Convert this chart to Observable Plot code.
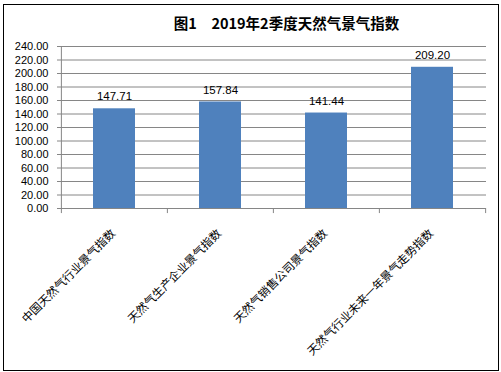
<!DOCTYPE html>
<html><head><meta charset="utf-8">
<script src="https://cdn.jsdelivr.net/npm/d3@7"></script>
<script src="https://cdn.jsdelivr.net/npm/@observablehq/plot@0.6"></script>
<style>
body{margin:0;background:#fff;}
#wrap{position:relative;width:501px;height:372px;overflow:hidden;}
#frame{position:absolute;left:3px;top:4px;width:494px;height:365px;border:1.5px solid #000;}
#title{position:absolute;left:72px;top:13px;width:429px;text-align:center;font:bold 14.5px "Noto Sans CJK SC",sans-serif;color:#000;line-height:20px;}
#chart{position:absolute;left:0;top:40px;}
</style></head>
<body><div id="wrap"><div id="frame"></div><div id="title">图1　2019年2季度天然气景气指数</div><div id="chart"></div></div>
<script>
const categories = ["中国天然气行业景气指数","天然气生产企业景气指数","天然气销售公司景气指数","天然气行业未来一年景气走势指数"];
const values = [147.71, 157.84, 141.44, 209.20];
const yTicks = [0,20,40,60,80,100,120,140,160,180,200,220,240];

const data = categories.map((c,i)=>({cat:c, v:values[i]}));
const W = 501, H = 332, mL = 61, mR = 15, mT = 6, mB = 164;
const step = (W - mL - mR) / categories.length;
const grid = "#868686";
const numFont = "Liberation Sans, Arial, sans-serif";

const plot = Plot.plot({
  width: W, height: H,
  marginLeft: mL, marginRight: mR, marginTop: mT, marginBottom: mB,
  style: {background: "transparent", color: "#000"},
  x: {domain: categories, paddingInner: 0.6, paddingOuter: 0.3},
  y: {domain: [0, 240], ticks: yTicks},
  marks: [
    Plot.gridY(yTicks, {stroke: grid, strokeOpacity: 1, strokeWidth: 1}),
    Plot.barY(data, {x: "cat", y: "v", fill: "#4F81BD"}),
    Plot.ruleY([0], {stroke: grid, strokeWidth: 1}),
    Plot.ruleX([0], {x: () => categories[0], dx: -step/2, y1: 0, y2: 240, stroke: grid}),
    Plot.ruleX(categories, {x: d => d, dx: -step/2, y1: 0, y2: -7.5, stroke: grid}),
    Plot.ruleX([categories[categories.length-1]], {x: d => d, dx: step/2, y1: 0, y2: -7.5, stroke: grid}),
    Plot.axisY({ticks: yTicks, tickFormat: d => d.toFixed(2), tickSize: 4, tickPadding: 9, stroke: grid, fontSize: 11, fontFamily: numFont, color:"#000", label: null}),
    Plot.axisX({tickSize: 0, tickPadding: 23, tickRotate: -45, fontSize: 11.5, fontFamily: "Noto Sans CJK SC, sans-serif", fontWeight: 400, label: null, dx: -1}),
    Plot.text(data, {x: "cat", y: "v", text: d => d.v.toFixed(2), dy: -12, fontSize: 11.5, fontFamily: numFont, fill: "#000"})
  ]
});
document.getElementById("chart").appendChild(plot);
</script></body></html>
